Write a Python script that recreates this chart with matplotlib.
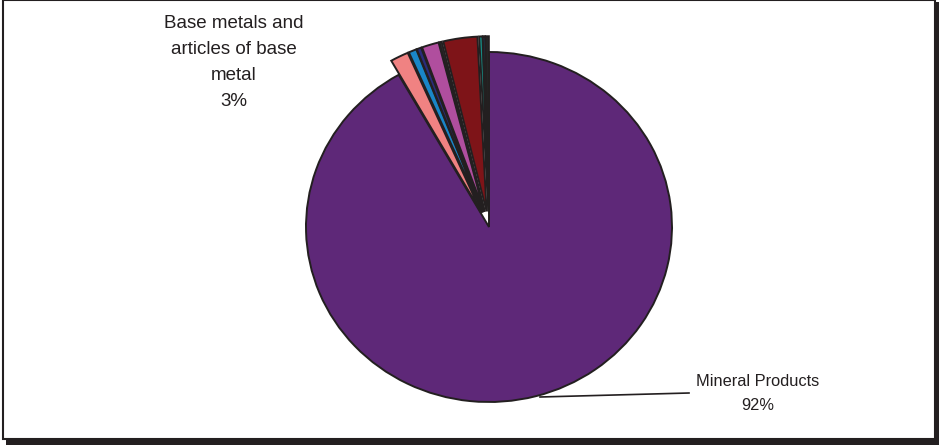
import matplotlib
matplotlib.use("Agg")
import matplotlib.pyplot as plt
from matplotlib.patches import Rectangle

plt.rcParams['font.family'] = ['Liberation Sans', 'DejaVu Sans']

# Export shares by product group (%), clockwise from 12 o'clock
categories = [
    "Mineral Products",
    "Plastics and rubber",
    "Chemical products",
    "Machinery",
    "Textiles",
    "Vehicles",
    "Base metals and articles of base metal",
    "Food products",
    "Wood products",
    "Other",
]
shares = [91.6, 1.6, 0.7, 0.4, 1.5, 0.2, 3.0, 0.3, 0.2, 0.3]
colors = ["#5E2878", "#F08282", "#1A86C8", "#2A2C7C", "#B04E9E",
          "#3A3A3A", "#7E1418", "#178A82", "#2462C0", "#262626"]
explode = [0.0, 0.09, 0.09, 0.09, 0.09, 0.09, 0.09, 0.09, 0.09, 0.09]

W, H = 939, 445
fig = plt.figure(figsize=(W / 100, H / 100), dpi=100)
fig.patch.set_facecolor("white")

# Chart frame with drop shadow (figure pixel coordinates)
bg = fig.add_axes([0, 0, 1, 1])
bg.set_xlim(0, W)
bg.set_ylim(H, 0)
bg.axis("off")
bg.add_patch(Rectangle((935, 2), 4, 443, facecolor="#231f20", edgecolor="none"))
bg.add_patch(Rectangle((6, 439), 933, 6, facecolor="#231f20", edgecolor="none"))
bg.add_patch(Rectangle((3, 0), 932, 439, facecolor="white", edgecolor="#231f20", lw=1.5))

# Pie axes: slightly elliptical pie centred at (489, 227)
cx, cy, rx, ry = 489, 227, 183, 175
span = 1.3
ax_w, ax_h = 2 * rx * span, 2 * ry * span
pie_ax = fig.add_axes([(cx - rx * span) / W, (H - cy - ry * span) / H, ax_w / W, ax_h / H])
pie_ax.pie(shares, colors=colors, explode=explode, startangle=90, counterclock=False,
           wedgeprops=dict(edgecolor="#231f20", linewidth=1.4))
pie_ax.set_aspect("auto")
pie_ax.set_xlim(-span, span)
pie_ax.set_ylim(-span, span)
pie_ax.axis("off")

# Labels
base_lines = ["Base metals and", "articles of base", "metal", "3%"]
for i, line in enumerate(base_lines):
    bg.text(234, 24 + 26 * i, line, ha="center", va="center",
            fontsize=13.5, color="#231f20")
for i, line in enumerate(["Mineral Products", "92%"]):
    bg.text(758, 381 + 25 * i, line, ha="center", va="center",
            fontsize=11.8, color="#231f20")
bg.plot([540, 689], [397, 393], color="#231f20", lw=1.2)

fig.savefig("out.png", dpi=100, facecolor="white")
